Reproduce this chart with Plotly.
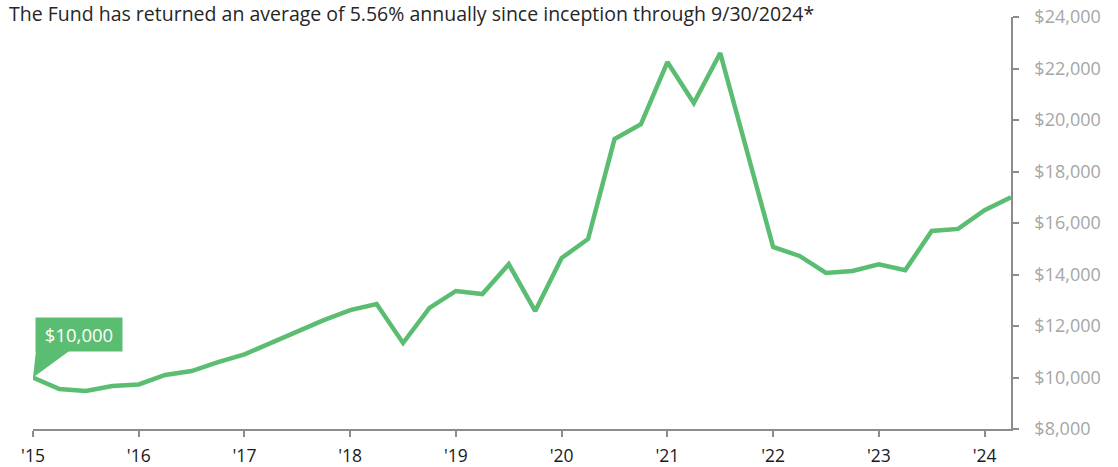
import plotly.graph_objects as go

# Quarterly dates (fractional year) and growth of $10,000
dates = [2015.00, 2015.25, 2015.50, 2015.75,
         2016.00, 2016.25, 2016.50, 2016.75,
         2017.00, 2017.25, 2017.50, 2017.75,
         2018.00, 2018.25, 2018.50, 2018.75,
         2019.00, 2019.25, 2019.50, 2019.75,
         2020.00, 2020.25, 2020.50, 2020.75,
         2021.00, 2021.25, 2021.50, 2021.75,
         2022.00, 2022.25, 2022.50, 2022.75,
         2023.00, 2023.25, 2023.50, 2023.75,
         2024.00, 2024.25]
values = [10000, 9550, 9475, 9670,
          9730, 10100, 10250, 10600,
          10900, 11340, 11800, 12230,
          12620, 12850, 11340, 12700,
          13360, 13240, 14400, 12580,
          14640, 15380, 19260, 19840,
          22250, 20660, 22600, 18830,
          15070, 14720, 14060, 14140,
          14400, 14170, 15690, 15770,
          16500, 17000]

x_tick_vals = [2015, 2016, 2017, 2018, 2019, 2020, 2021, 2022, 2023, 2024]
x_tick_text = ["'15", "'16", "'17", "'18", "'19", "'20", "'21", "'22", "'23", "'24"]
y_tick_vals = [8000, 10000, 12000, 14000, 16000, 18000, 20000, 22000, 24000]
y_tick_text = ["$8,000", "$10,000", "$12,000", "$14,000", "$16,000",
               "$18,000", "$20,000", "$22,000", "$24,000"]

title_text = "The Fund has returned an average of 5.56% annually since inception through 9/30/2024*"
start_label = "$10,000"

GREEN = "#5bbd72"
FONT = "'Open Sans', sans-serif"

fig = go.Figure()
fig.add_trace(go.Scatter(
    x=dates, y=values, mode="lines",
    line=dict(color=GREEN, width=4.5),
    hoverinfo="skip", showlegend=False,
))

# callout wedge anchored at starting point
fig.add_shape(
    type="path", xref="x", yref="y",
    xsizemode="pixel", ysizemode="pixel",
    xanchor=dates[0], yanchor=values[0],
    path="M 0 0 L 3 27 L 37 27 Z",
    fillcolor=GREEN, line=dict(width=0), layer="above",
)
fig.add_annotation(
    x=dates[0], y=values[0], xref="x", yref="y",
    text=start_label, showarrow=False,
    xanchor="left", yanchor="bottom", xshift=2, yshift=26,
    bgcolor=GREEN, borderpad=4, width=78,
    font=dict(family=FONT, size=18.5, color="white"),
)

fig.add_annotation(
    xref="paper", yref="paper", x=0, y=1,
    xanchor="left", yanchor="middle", xshift=-26, yshift=4,
    text=title_text, showarrow=False,
    font=dict(family=FONT, size=19.5, color="#262626"),
)

fig.update_layout(
    width=1118, height=467,
    margin=dict(l=33, r=107, t=17, b=38, autoexpand=False),
    paper_bgcolor="white", plot_bgcolor="white",
    hovermode=False,
    xaxis=dict(
        range=[2015, 2024.25], automargin=False,
        tickvals=x_tick_vals, ticktext=x_tick_text,
        showgrid=False, zeroline=False,
        showline=True, linecolor="#8c8c8c", linewidth=1.5,
        ticks="outside", ticklen=6, tickcolor="#8c8c8c", tickwidth=1.5,
        ticklabelstandoff=4, ticklabeloverflow="allow",
        tickfont=dict(family=FONT, size=17.5, color="#1a1a1a"),
    ),
    yaxis=dict(
        range=[8000, 24000], side="right", automargin=False,
        tickvals=y_tick_vals, ticktext=y_tick_text,
        showgrid=False, zeroline=False,
        showline=True, linecolor="#8c8c8c", linewidth=1.5,
        ticks="outside", ticklen=6, tickcolor="#8c8c8c", tickwidth=1.5,
        ticklabelstandoff=12, ticklabeloverflow="allow",
        tickfont=dict(family=FONT, size=18, color="#a6a6a6"),
    ),
)

# remove the default 8px page margin so the figure fills the window exactly
fig.write_html("out.html", config={"displayModeBar": False},
               post_script="document.body.style.margin='0px';")
